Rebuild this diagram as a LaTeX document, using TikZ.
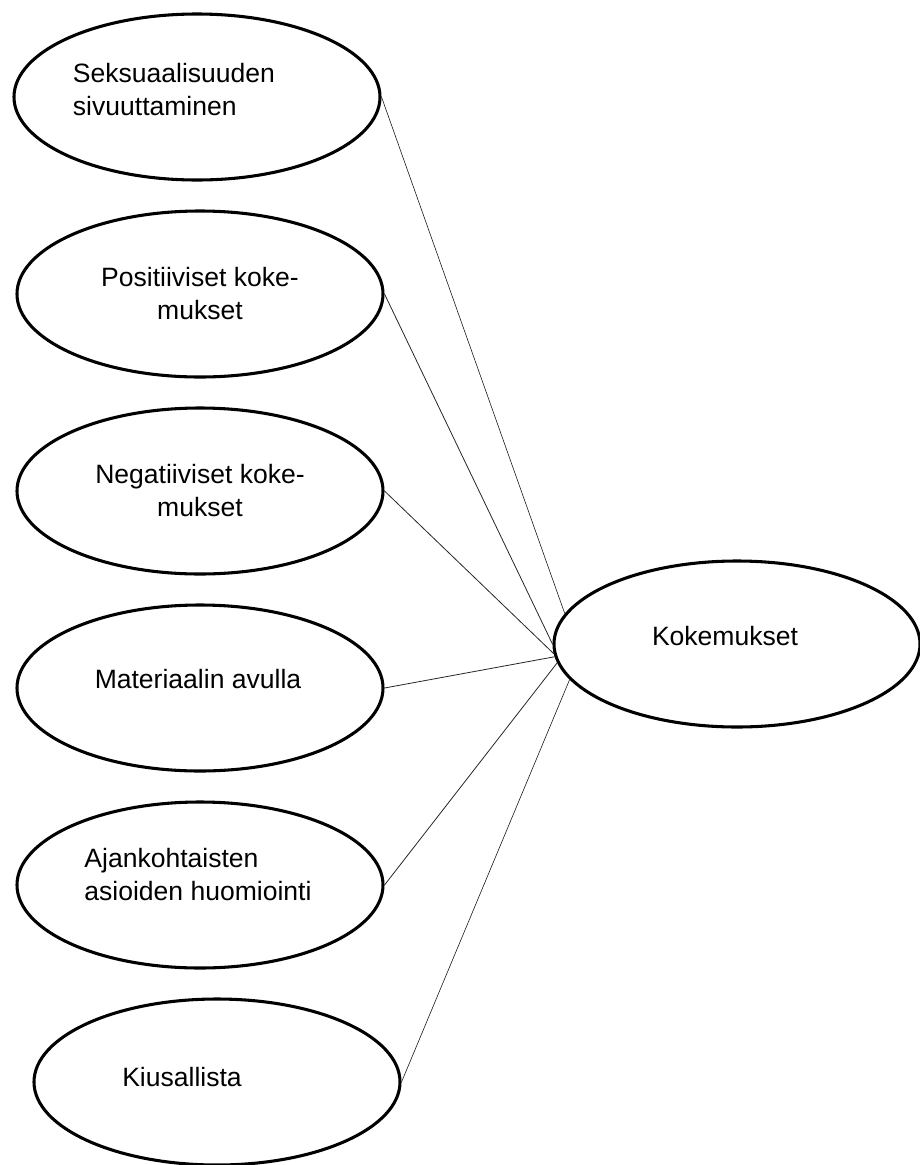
\documentclass[tikz,border=0pt]{standalone}
\usepackage{fontspec}
\setmainfont{Liberation Sans}
\usepackage{tikz}
\usetikzlibrary{
	positioning,
	shapes.geometric
}

\tikzset{
	bubble/.style={ellipse, draw, line width=2.3pt, minimum width=274.5pt, minimum height=124.5pt, inner sep=0pt},
	txt/.style={font=\fontsize{19.9pt}{24.75pt}\selectfont, inner sep=0pt},
	link/.style={line width=0.6pt, black!85},
	thinlink/.style={line width=0.45pt, black!90}
}

\begin{document}
\begin{tikzpicture}[x=0.75pt, y=-0.75pt, node distance=147.75pt]
		\useasboundingbox (0,0) rectangle (920,1165);
		\draw
			(197,97) node[bubble, label={[txt,align=left,shift={(-23,-7)}]center:{Seksuaalisuuden\\sivuuttaminen}}] (e1) {}
			node[bubble, below of=e1, xshift=2.25pt, label={[txt,align=center]center:{Positiiviset koke-\\mukset}}] (e2) {}
			node[bubble, below of=e2, label={[txt,align=center]center:{Negatiiviset koke-\\mukset}}] (e3) {}
			node[bubble, below of=e3, label={[txt,shift={(-2,-9)}]center:{Materiaalin avulla}}] (e4) {}
			node[bubble, below of=e4, label={[txt,align=left,shift={(-2,-10)}]center:{Ajankohtaisten\\asioiden huomiointi}}] (e5) {}
			node[bubble, below of=e5, xshift=12.75pt, label={[txt,shift={(-35,-5)}]center:{Kiusallista}}] (e6) {}
			(737,644) node[bubble, label={[txt,shift={(-12,-8)}]center:{Kokemukset}}] (kok) {}

			(e1.east) edge[thinlink] (kok.170)
			(e2.east) edge[link]     (kok.180)
			(e3.east) edge[link]     (kok.183)
			(e4.east) edge[link]     (kok.184)
			(e5.east) edge[link]     (kok.186)
			(e6.east) edge[thinlink] (kok.192)
		;
\end{tikzpicture}
\end{document}
